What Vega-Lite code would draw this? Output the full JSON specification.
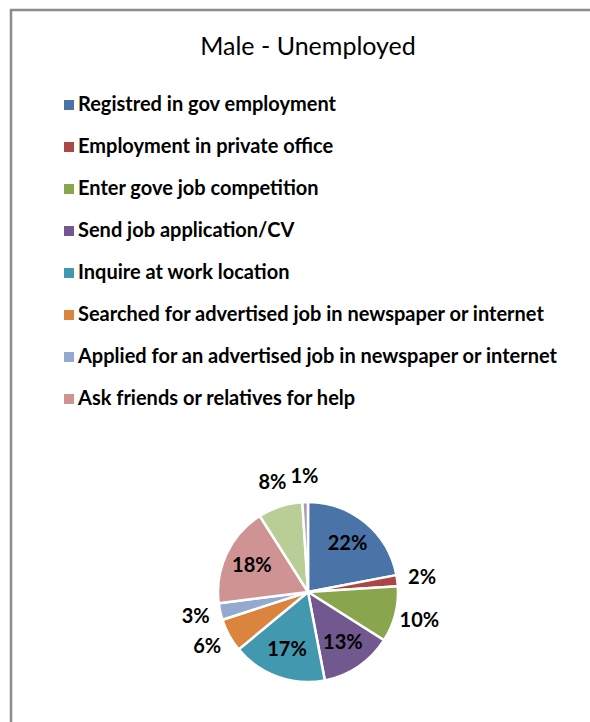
{
  "$schema": "https://vega.github.io/schema/vega-lite/v6.json",
  "autosize": "none",
  "width": 594,
  "height": 1164,
  "padding": {"left": 11, "top": 10, "right": -15, "bottom": -452},
  "background": "white",
  "view": {"stroke": "#8c8c8c", "strokeWidth": 2.5, "fill": "white"},
  "config": {
    "view": {"stroke": "#8c8c8c", "strokeWidth": 2.5},
    "font": "Lato"
  },
  "title": {
    "text": "Male - Unemployed",
    "font": "Lato",
    "fontSize": 25,
    "fontWeight": "normal",
    "color": "#000000",
    "anchor": "middle",
    "frame": "group",
    "baseline": "alphabetic",
    "offset": -46,
    "dy": 24
  },
  "data": {
    "values": [
      {"k": 1, "method": "Registred in gov employment", "pct": 0.22},
      {"k": 2, "method": "\u00a0Employment in private office", "pct": 0.02},
      {"k": 3, "method": "Enter gove job competition", "pct": 0.10},
      {"k": 4, "method": "Send job application/CV", "pct": 0.13},
      {"k": 5, "method": "Inquire at work location", "pct": 0.17},
      {"k": 6, "method": "\u00a0Searched for advertised job in newspaper or internet", "pct": 0.06},
      {"k": 7, "method": "Applied for an advertised job in newspaper or internet", "pct": 0.03},
      {"k": 8, "method": "Ask friends or relatives for help", "pct": 0.18},
      {"k": 9, "method": "Other", "pct": 0.08},
      {"k": 10, "method": "Other 2", "pct": 0.01}
    ]
  },
  "encoding": {
    "theta": {"field": "pct", "type": "quantitative", "stack": true},
    "order": {"field": "k", "type": "quantitative"}
  },
  "layer": [
    {
      "mark": {"type": "arc", "outerRadius": 90, "stroke": "white", "strokeWidth": 2.5},
      "encoding": {
        "color": {
          "field": "method",
          "type": "nominal",
          "scale": {
            "domain": [
              "Registred in gov employment",
              "\u00a0Employment in private office",
              "Enter gove job competition",
              "Send job application/CV",
              "Inquire at work location",
              "\u00a0Searched for advertised job in newspaper or internet",
              "Applied for an advertised job in newspaper or internet",
              "Ask friends or relatives for help",
              "Other",
              "Other 2"
            ],
            "range": ["#4A73A8", "#AA4643", "#89A54E", "#71588F", "#4198AF", "#DB843D", "#93A9CF", "#D09393", "#B9CD96", "#A99BBD"]
          },
          "legend": {
            "title": null,
            "orient": "none",
            "legendX": 48,
            "legendY": 85,
            "values": [
              "Registred in gov employment",
              "\u00a0Employment in private office",
              "Enter gove job competition",
              "Send job application/CV",
              "Inquire at work location",
              "\u00a0Searched for advertised job in newspaper or internet",
              "Applied for an advertised job in newspaper or internet",
              "Ask friends or relatives for help"
            ],
            "symbolType": "square",
            "symbolSize": 100,
            "symbolStrokeWidth": 0,
            "labelFont": "Lato",
            "labelFontSize": 20,
            "labelFontWeight": "bold",
            "labelColor": "#000000",
            "labelLimit": 600,
            "labelOffset": -1,
            "rowPadding": 22
          }
        }
      }
    },
    {
      "mark": {"type": "text", "radius": 62, "font": "Lato", "fontSize": 20, "fontWeight": "bold"},
      "encoding": {
        "text": {"field": "pct", "type": "quantitative", "format": ".0%"},
        "color": {"value": "#000000"},
        "opacity": {"condition": {"test": "datum.pct >= 0.13", "value": 1}, "value": 0}
      }
    },
    {
      "mark": {"type": "text", "radius": 115, "font": "Lato", "fontSize": 20, "fontWeight": "bold"},
      "encoding": {
        "text": {"field": "pct", "type": "quantitative", "format": ".0%"},
        "color": {"value": "#000000"},
        "opacity": {"condition": {"test": "datum.pct < 0.13", "value": 1}, "value": 0}
      }
    }
  ]
}
